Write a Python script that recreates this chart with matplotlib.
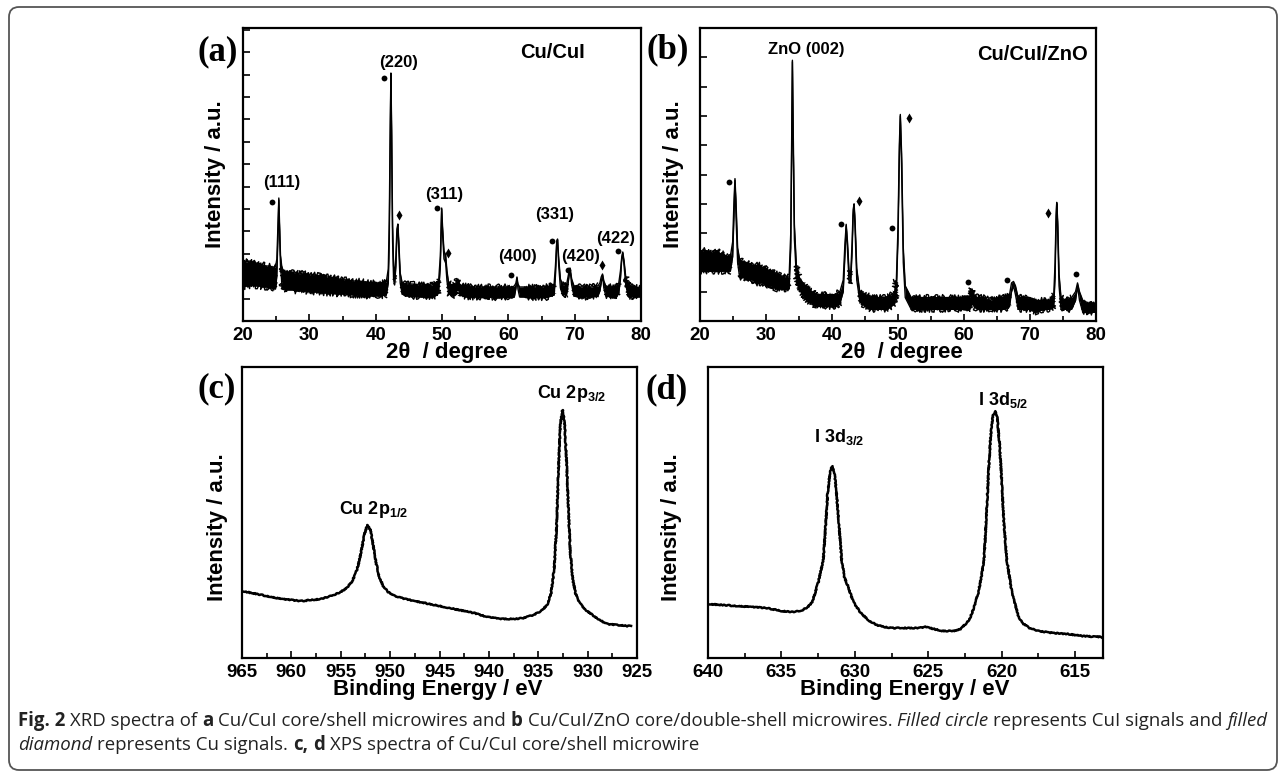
import numpy as np
import matplotlib
matplotlib.use('Agg')
import matplotlib.pyplot as plt
from matplotlib.ticker import MultipleLocator
from matplotlib.patches import FancyBboxPatch
from matplotlib.transforms import IdentityTransform

plt.rcParams['font.family'] = ['Liberation Sans', 'DejaVu Sans']
plt.rcParams['font.weight'] = 'bold'
plt.rcParams['mathtext.fontset'] = 'custom'
plt.rcParams['mathtext.rm'] = 'Liberation Sans'
plt.rcParams['mathtext.bf'] = 'Liberation Sans:bold'

W, H = 1284, 773

# ---- (a) XRD Cu/CuI : rows of (2theta, low edge, high edge) of the noisy trace
a_trace = [
    (20.0, 34, 61), (20.5, 35, 59), (21.0, 35, 60), (21.5, 36, 58), (22.0, 35, 58),
    (22.5, 35, 57), (23.0, 34, 56), (23.5, 34, 55), (24.0, 33, 55), (24.5, 33, 54),
    (24.9, 32, 54), (25.1, 45, 62), (25.25, 80, 92), (25.4, 121, 123), (25.52, 85, 95),
    (25.65, 55, 66), (25.85, 38, 54), (26.1, 33, 50), (26.5, 31, 49), (27.0, 31, 49),
    (27.5, 31, 48), (28.0, 30, 48), (28.5, 30, 47), (29.0, 30, 48), (29.5, 30, 47),
    (30.0, 29, 46), (30.5, 29, 46), (31.0, 29, 46), (31.5, 29, 45), (32.0, 28, 45),
    (32.5, 28, 44), (33.0, 28, 44), (33.5, 28, 43), (34.0, 27, 43), (34.5, 27, 42),
    (35.5, 27, 41), (36.5, 26, 40), (37.5, 26, 40), (38.5, 25, 39), (39.5, 25, 38),
    (40.5, 25, 38), (41.6, 26, 39), (41.9, 38, 52), (42.05, 80, 100), (42.2, 180, 200),
    (42.3, 246, 248), (42.42, 170, 185), (42.55, 80, 95), (42.7, 42, 55), (42.85, 36, 46),
    (43.05, 55, 65), (43.2, 85, 92), (43.35, 96, 97), (43.5, 70, 78), (43.7, 38, 48),
    (44.0, 27, 38), (44.5, 25, 37), (45.5, 25, 37), (46.5, 24, 36), (47.5, 24, 36),
    (48.5, 24, 36), (49.3, 26, 38), (49.5, 30, 41), (49.75, 55, 65), (49.95, 112, 113),
    (50.1, 85, 92), (50.3, 62, 70), (50.55, 58, 66), (50.75, 40, 50), (51.0, 28, 38),
    (51.5, 25, 36), (52.1, 27, 38), (52.4, 36, 42), (52.7, 26, 36), (53.5, 24, 35),
    (54.5, 24, 34), (55.5, 24, 34), (56.5, 23, 34), (57.5, 24, 34), (58.5, 23, 34),
    (59.5, 24, 34), (60.5, 23, 34), (60.9, 24, 35), (61.15, 33, 38), (61.3, 43, 44),
    (61.45, 32, 37), (61.7, 24, 34), (62.5, 24, 34), (63.5, 23, 34), (64.5, 24, 34),
    (65.5, 23, 34), (66.5, 25, 35), (66.9, 26, 37), (67.1, 45, 55), (67.3, 78, 80),
    (67.42, 81, 82), (67.6, 55, 62), (67.85, 33, 42), (68.2, 26, 36), (68.8, 27, 37),
    (69.05, 40, 46), (69.3, 52, 53), (69.55, 36, 42), (69.9, 25, 35), (70.5, 24, 34),
    (71.5, 24, 34), (72.5, 24, 34), (73.5, 25, 35), (73.8, 30, 38), (74.0, 38, 44),
    (74.2, 46, 47), (74.4, 33, 40), (74.7, 25, 35), (75.5, 24, 34), (76.3, 24, 34),
    (76.65, 28, 38), (76.9, 42, 50), (77.1, 62, 64), (77.25, 68, 69), (77.45, 55, 60),
    (77.7, 36, 44), (78.1, 25, 35), (79.0, 24, 34), (80.0, 24, 33),
]
a_peaks = [25.4, 42.3, 43.35, 49.95, 50.55, 61.3, 67.42, 69.3, 74.2, 77.25]
a_dots_x = [24.4, 41.3, 49.3, 60.4, 66.6, 69.0, 76.5]
a_dots_y = [119, 243, 113, 46, 80, 51, 70]
a_diam_x = [43.5, 50.9, 74.1]
a_diam_y = [106, 68, 56]
a_labels = ['(111)', '(220)', '(311)', '(331)', '(400)', '(420)', '(422)']
a_label_x = [25.9, 43.4, 50.3, 67.0, 61.4, 70.9, 76.1]
a_label_y = [138, 259, 127, 106, 65, 65, 83]

# ---- (b) XRD Cu/CuI/ZnO (intensity in % of the frame)
b_trace = [
    (20.0, 17, 24), (20.5, 17, 24), (21.0, 17, 24), (21.5, 17, 23), (22.0, 17, 24),
    (22.5, 17, 24), (23.0, 17, 23), (23.5, 17, 23), (24.0, 17, 22), (24.6, 17, 22),
    (24.95, 22, 27), (25.15, 36, 41), (25.3, 48, 48.6), (25.45, 36, 41), (25.7, 20, 25),
    (26.0, 15, 21), (26.5, 15, 20), (27.0, 14, 20), (27.5, 14, 19), (28.0, 14, 19),
    (28.5, 13, 19), (29.0, 13, 19), (29.5, 13, 18), (30.0, 12, 18), (30.5, 12, 17),
    (31.0, 12, 17), (31.5, 11, 16), (32.0, 11, 16), (32.5, 11, 15), (33.0, 11, 15),
    (33.5, 11, 15), (33.75, 25, 30), (33.9, 60, 65), (34.0, 88.5, 89), (34.12, 60, 66),
    (34.3, 28, 33), (34.6, 15, 19), (35.0, 11, 15), (35.6, 9, 13), (36.3, 7, 11),
    (37.0, 6, 10), (37.5, 5, 9), (38.0, 5, 9), (38.5, 5, 9), (39.0, 5, 9),
    (39.5, 5, 9), (40.0, 5, 9), (40.5, 5, 9), (41.2, 6, 10), (41.7, 10, 14),
    (41.95, 22, 26), (42.15, 32.5, 33), (42.35, 24, 27), (42.6, 13, 16), (42.85, 14, 17),
    (43.05, 24, 27), (43.2, 36, 38), (43.35, 39.5, 40), (43.5, 31, 34), (43.75, 14, 18),
    (44.2, 7, 10), (45.0, 5, 9), (46.0, 4, 8), (47.0, 4, 8), (48.0, 4, 8),
    (49.0, 5, 9), (49.5, 6, 10), (49.75, 10, 14), (50.0, 28, 32), (50.2, 56, 60),
    (50.35, 70, 70.5), (50.55, 52, 57), (50.8, 20, 25), (51.1, 8, 12), (52.0, 4, 8),
    (53.0, 4, 8), (54.0, 4, 8), (55.0, 4, 8), (56.0, 4, 8), (57.0, 4, 8),
    (58.0, 4, 8), (59.0, 4, 8), (60.0, 4, 8), (60.9, 4, 8), (61.2, 8, 11),
    (61.5, 5, 9), (62.0, 4, 8), (63.0, 4, 8), (64.0, 4, 7), (65.0, 4, 8),
    (66.0, 4, 8), (66.9, 5, 9), (67.2, 10, 13), (67.5, 12, 13.5), (67.8, 9, 12),
    (68.2, 4, 8), (69.0, 4, 8), (70.0, 4, 8), (71.0, 3, 7), (72.0, 4, 7),
    (73.0, 4, 7), (73.6, 5, 9), (73.8, 15, 20), (73.95, 33, 36), (74.05, 40, 40.5),
    (74.2, 30, 34), (74.4, 12, 16), (74.7, 4, 8), (75.5, 4, 7), (76.3, 4, 8),
    (76.9, 7, 10), (77.2, 12, 13), (77.5, 7, 10), (78.0, 3, 7), (79.0, 3, 6),
    (80.0, 3, 6),
]
b_peaks = [25.3, 34.0, 42.15, 43.35, 50.35, 50.8, 67.5, 74.05, 77.2]
b_dots_x = [24.4, 41.4, 49.1, 60.65, 66.45, 76.9]
b_dots_y = [47.5, 33, 31.8, 13.2, 13.9, 16.2]
b_diam_x = [44.1, 51.7, 72.8]
b_diam_y = [41, 69.2, 37]

# ---- (c) XPS Cu 2p
c_energy = [965.0, 964.0, 963.0, 962.0, 961.0, 960.0, 959.0, 958.0, 957.0, 956.0,
            955.0, 954.4, 953.9, 953.5, 953.2, 952.9, 952.6, 952.3, 952.0, 951.7,
            951.4, 951.1, 950.7, 950.2, 949.5, 948.5, 947.5, 946.5, 945.5, 944.5,
            943.5, 942.5, 941.5, 940.5, 939.5, 938.5, 937.5, 936.5, 935.5, 934.7,
            934.1, 933.7, 933.4, 933.15, 932.95, 932.75, 932.55, 932.35, 932.15, 931.95,
            931.75, 931.5, 931.2, 930.8, 930.2, 929.5, 928.8, 928.0, 927.0, 926.0, 925.6]
c_counts = [67, 65, 63, 61, 59, 58, 57, 58, 59, 62,
            66, 70, 76, 84, 94, 108, 124, 133, 128, 112,
            94, 81, 72, 66, 62, 59, 57, 55, 53, 51,
            49, 47, 45, 42, 40, 39, 39, 40, 43, 47,
            53, 65, 88, 130, 190, 235, 248, 238, 200, 150,
            105, 78, 64, 55, 48, 43, 38, 34, 33, 32, 32]

# ---- (d) XPS I 3d
d_energy = [640.0, 639.0, 638.0, 637.0, 636.0, 635.0, 634.3, 633.7, 633.2, 632.9,
            632.5, 632.15, 632.0, 631.85, 631.7, 631.55, 631.4, 631.25, 631.05, 630.9,
            630.7, 630.45, 630.1, 629.6, 629.0, 628.5, 628.0, 627.4, 626.5, 625.8,
            625.2, 624.6, 624.0, 623.3, 622.8, 622.2, 621.9, 621.6, 621.4, 621.2,
            621.05, 620.9, 620.75, 620.6, 620.45, 620.3, 620.15, 620.0, 619.85, 619.65,
            619.3, 618.85, 618.5, 618.1, 617.5, 616.5, 615.5, 614.5, 613.2]
d_counts = [54, 53, 52, 51, 50, 47, 46, 47, 51, 56,
            75, 98, 130, 165, 185, 192, 186, 165, 128, 98,
            80, 71, 56, 45, 37, 33, 31, 30, 30, 30,
            31, 29, 27, 27, 29, 38, 50, 65, 80, 98,
            140, 185, 222, 242, 247, 240, 215, 178, 135, 98,
            65, 41, 34, 30, 27, 25, 24, 22, 21]

xps_labels = {
    'c': [('Cu 2p$_{\\mathbf{1/2}}$', 951.7, 149), ('Cu 2p$_{\\mathbf{3/2}}$', 931.6, 264)],
    'd': [('I 3d$_{\\mathbf{3/2}}$', 631.1, 221), ('I 3d$_{\\mathbf{5/2}}$', 619.9, 258)],
}

fig = plt.figure(figsize=(W / 100, H / 100), dpi=100)


def box(l, t, r, b):
    return [l / W, 1 - b / H, (r - l) / W, (b - t) / H]


def px(x, y):
    return x / W, 1 - y / H


def style_axes(ax):
    for s in ax.spines.values():
        s.set_linewidth(1.6)
    ax.tick_params(which='both', direction='in', top=False, right=False,
                   width=1.2, labelsize=13.5, pad=4)
    ax.tick_params(which='major', length=5)
    ax.tick_params(which='minor', length=3.5)


def draw_xrd(ax, rows, peaks):
    x = np.array([r[0] for r in rows])
    lo = np.array([r[1] for r in rows], dtype=float)
    hi = np.array([r[2] for r in rows], dtype=float)
    ax.fill_between(x, lo, hi, color='k', lw=0)
    ax.plot(x, lo, color='k', lw=1.0)
    ax.plot(x, hi, color='k', lw=1.0)
    # jagged detector noise on the background only (a drawing style, peaks stay sharp)
    calm = np.ones(len(x), dtype=bool)
    for p in peaks:
        calm &= np.abs(x - p) > 0.45
    rough = ax.fill_between(x, lo, hi, where=calm, color='k', lw=0)
    rough.set_sketch_params(scale=2.5, length=1.5, randomness=4)
    for edge in (lo, hi):
        ln, = ax.plot(x, np.where(calm, edge, np.nan), color='k', lw=1.0)
        ln.set_sketch_params(scale=3, length=1.2, randomness=4)


ax_a = fig.add_axes(box(243, 28, 641, 321))
ax_b = fig.add_axes(box(700, 28, 1096, 321))
ax_c = fig.add_axes(box(242, 367, 637, 658))
ax_d = fig.add_axes(box(708, 367, 1103, 658))

# (a)
draw_xrd(ax_a, a_trace, a_peaks)
ax_a.plot(a_dots_x, a_dots_y, 'o', color='k', ms=4.2, mec='none')
ax_a.plot(a_diam_x, a_diam_y, 'd', color='k', ms=5.5, mec='none')
for lab, x, y in zip(a_labels, a_label_x, a_label_y):
    ax_a.text(x, y, lab, ha='center', va='center', fontsize=12)
ax_a.text(66.6, 268, 'Cu/CuI', ha='center', va='center', fontsize=14.5)
ax_a.set_xlim(20, 80)
ax_a.set_ylim(0, 293)
ax_a.yaxis.set_major_locator(MultipleLocator(22.4))

# (b)
draw_xrd(ax_b, b_trace, b_peaks)
ax_b.plot(b_dots_x, b_dots_y, 'o', color='k', ms=4.2, mec='none')
ax_b.plot(b_diam_x, b_diam_y, 'd', color='k', ms=5.5, mec='none')
ax_b.text(36.06, 92.5, 'ZnO (002)', ha='center', va='center', fontsize=12)
ax_b.text(78.7, 91.1, 'Cu/CuI/ZnO', ha='right', va='center', fontsize=14.5)
ax_b.set_xlim(20, 80)
ax_b.set_ylim(0, 100)
ax_b.yaxis.set_major_locator(MultipleLocator(10))

for ax in (ax_a, ax_b):
    style_axes(ax)
    ax.xaxis.set_major_locator(MultipleLocator(10))
    ax.xaxis.set_minor_locator(MultipleLocator(5))
    ax.set_yticklabels([])

# (c)
ln_c, = ax_c.plot(c_energy, c_counts, color='k', lw=1.8)
ax_c.set_xlim(965, 925)
ax_c.set_ylim(0, 291)
# (d)
ln_d, = ax_d.plot(d_energy, d_counts, color='k', lw=1.8)
ax_d.set_xlim(640, 613.1)
ax_d.set_ylim(0, 291)
for ln in (ln_c, ln_d):
    ln.set_sketch_params(scale=0.5, length=2, randomness=3)

for key, ax in (('c', ax_c), ('d', ax_d)):
    style_axes(ax)
    ax.xaxis.set_major_locator(MultipleLocator(5))
    ax.xaxis.set_minor_locator(MultipleLocator(2.5))
    ax.set_yticks([])
    for lab, x, y in xps_labels[key]:
        ax.text(x, y, lab, ha='center', va='center', fontsize=13)

# axis titles and panel letters
for x, y in ((215, 174), (673, 174), (218, 527), (672, 527)):
    fig.text(*px(x, y), 'Intensity / a.u.', rotation=90, ha='center', va='center',
             fontsize=16)
for x in (447, 902):
    fig.text(*px(x, 352), '2θ  / degree', ha='center', va='center', fontsize=16)
for x in (438, 905):
    fig.text(*px(x, 689), 'Binding Energy / eV', ha='center', va='center', fontsize=16)
for lab, x, y in (('(a)', 218, 52), ('(b)', 668, 50), ('(c)', 217, 389), ('(d)', 667, 390)):
    fig.text(*px(x, y), lab, ha='center', va='center', fontsize=25,
             family='Liberation Serif', weight='bold')

# rounded outer frame
frame = FancyBboxPatch((9, H - 770), 1268, 763, boxstyle='round,pad=0,rounding_size=10',
                       transform=IdentityTransform(), fill=False, ec='#555555', lw=1.3)
fig.add_artist(frame)

# caption, typeset piece by piece
cap1 = [('Fig. 2', 'b'), ('XRD spectra of', 'n'), ('a', 'b'),
        ('Cu/CuI core/shell microwires and', 'n'), ('b', 'b'),
        ('Cu/CuI/ZnO core/double-shell microwires.', 'n'), ('Filled circle', 'i'),
        ('represents CuI signals and', 'n'), ('filled', 'i')]
cap2 = [('diamond', 'i'), ('represents Cu signals.', 'n'), ('c,', 'b'), ('d', 'b'),
        ('XPS spectra of Cu/CuI core/shell microwire', 'n')]

renderer = fig.canvas.get_renderer()
kinds = {'b': dict(weight='bold', style='normal'),
         'n': dict(weight='normal', style='normal'),
         'i': dict(weight='normal', style='italic')}


def text_w(s, size, kind):
    t = fig.text(0, 0, s, fontsize=size, family='Open Sans', **kinds[kind])
    w = t.get_window_extent(renderer).width
    t.remove()
    return w


def line_w(pieces, size):
    space = text_w('x x', size, 'n') - text_w('xx', size, 'n')
    return sum(text_w(s, size, k) for s, k in pieces) + space * (len(pieces) - 1)


def put_line(pieces, x0, y, size):
    space = text_w('x x', size, 'n') - text_w('xx', size, 'n')
    x = x0
    for s, k in pieces:
        fig.text(*px(x, y), s, fontsize=size, family='Open Sans', color='#222222',
                 ha='left', va='center', **kinds[k])
        x += text_w(s, size, k) + space


size = 12 * (1262 - 18) / line_w(cap1, 12)
put_line(cap1, 18, 721, size)
put_line(cap2, 18, 745, size)

fig.savefig('out.png', dpi=100)
